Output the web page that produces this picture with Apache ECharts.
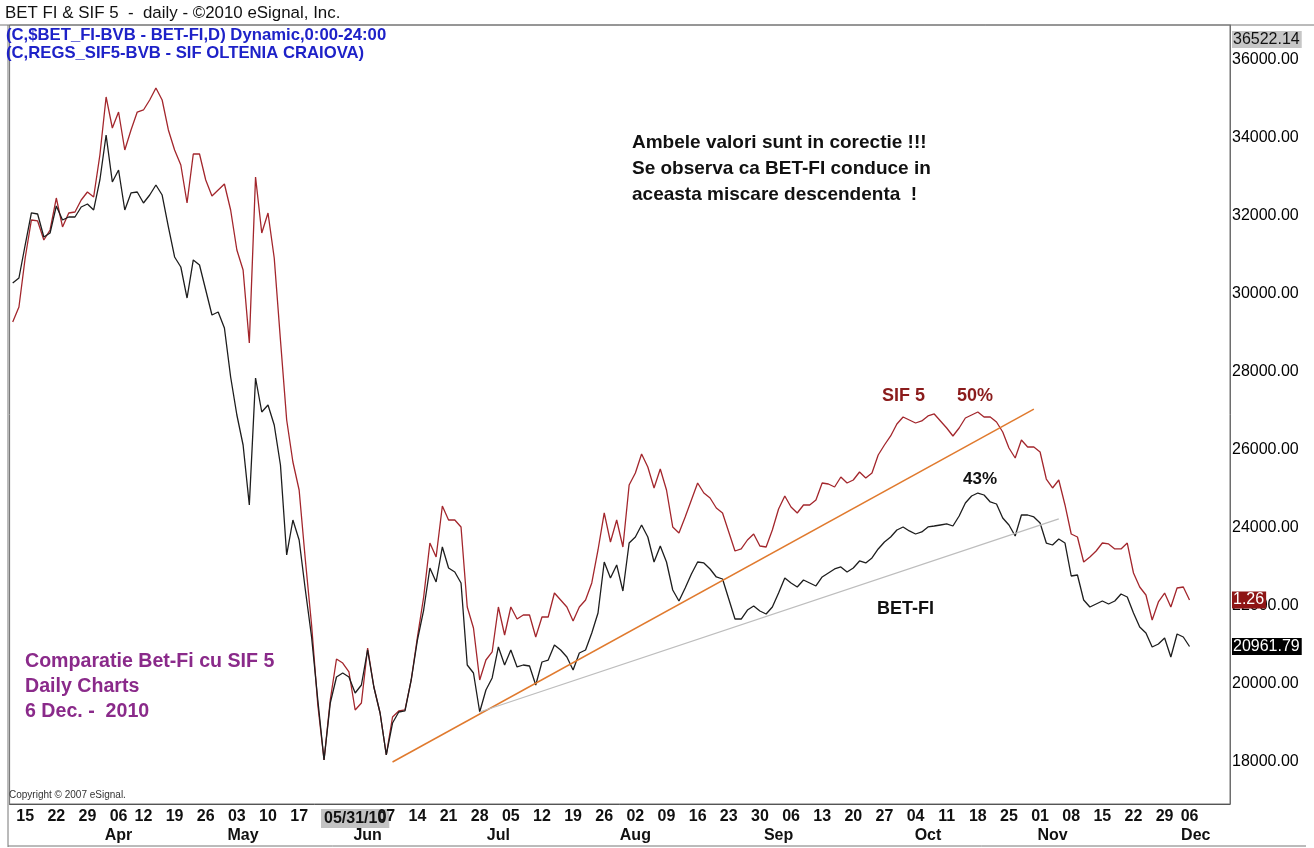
<!DOCTYPE html>
<html><head><meta charset="utf-8">
<script src="https://cdn.jsdelivr.net/npm/echarts@6/dist/echarts.min.js"></script>
<style>html,body{margin:0;padding:0;background:#fff}#c{width:1314px;height:848px}</style>
</head><body><div id="c"></div>
<script>
// ---- trading calendar (Bucharest Stock Exchange sessions) ----
const startDate = '2010-03-11';
const endDate = '2010-12-14';            // axis runs a few empty sessions past the last close
const holidays = ['2010-04-05', '2010-05-24', '2010-12-01'];

// ---- BET-FI daily closes (index points) ----
const betFi = [
30282,30410,31256,32077,32051,31461,31564,32256,31897,31974,
31974,32231,32308,32154,32923,34077,32872,33179,32154,32590,
32615,32333,32538,32795,32538,31718,30949,30692,29897,30872,
30743,30102,29461,29538,29128,27872,26897,26128,24590,27846,
26974,27154,26641,25615,23308,24205,23692,22410,21205,19590,
18052,19513,20179,20282,20179,19769,19974,20872,19923,19256,
18180,18999,19282,19308,20103,21128,21897,22974,22615,23513,
22974,22872,22590,20487,20282,19282,19846,20154,20949,20487,
20872,20436,20487,20461,19974,20564,20615,21000,20872,20692,
20359,20795,20872,21308,21821,23128,22718,23052,22385,23615,
23769,24077,23769,23128,23538,23128,22410,22128,22462,22821,
23128,23103,22949,22744,22692,22179,21666,21666,21897,21999,
21871,21795,21974,22333,22718,22590,22487,22667,22590,22513,
22744,22846,22949,23000,22872,22974,23154,23103,23231,23462,
23641,23769,23949,24026,23924,23846,23898,24026,24051,24077,
24103,24051,24308,24641,24820,24897,24846,24667,24615,24256,
24077,23795,24333,24333,24282,24128,23615,23564,23718,23615,
22769,22795,22154,21974,22051,22128,22051,22128,22308,22231,
21821,21462,21308,20949,21026,21180,20692,21282,21205,20961.79
];

// ---- SIF 5 overlay, rescaled onto the BET-FI axis as in the chart ----
const sif5 = [
29282,29667,30923,31897,31872,31384,31641,32461,31718,32077,
32102,32410,32615,32487,33564,35051,34256,34666,33692,34205,
34666,34718,34974,35282,34974,34205,33692,33307,32333,33589,
33589,32923,32513,32667,32820,32154,31128,30615,28743,33000,
31564,32077,30923,28820,26769,25692,24974,23180,21513,19461,
18052,19590,20641,20538,20308,19333,19513,20923,19923,19256,
18180,19154,19308,19334,20103,21205,22231,23615,23256,24564,
24205,24205,24026,21974,21436,20103,20615,20821,21974,21256,
21974,21666,21769,21769,21205,21718,21718,22333,22154,21974,
21615,21974,22154,22590,23436,24385,23641,24205,23513,25103,
25410,25897,25564,25026,25513,24974,24026,23872,24282,24718,
25154,24897,24769,24513,24385,23898,23410,23462,23692,23846,
23538,23513,23949,24487,24820,24538,24385,24589,24589,24718,
25154,25128,25051,25308,25154,25231,25436,25282,25410,25872,
26128,26359,26667,26846,26769,26692,26744,26872,26923,26744,
26564,26359,26564,26820,26897,26974,26846,26846,26718,26461,
26051,25795,26256,26077,26077,25949,25256,25026,25231,24590,
23846,23769,23128,23256,23410,23615,23590,23462,23462,23615,
22846,22487,22282,21641,22103,22333,21974,22461,22487,22154
];
const sif5LastPrice = '1.26';
const betFiLastText = '20961.79';
const cursorValue = 36522.14;

// ---- axis ticks / labels ----
const yTicks = [18000, 20000, 22000, 24000, 26000, 28000, 30000, 32000, 34000, 36000];
const weekTickDates = [
'2010-03-15','2010-03-22','2010-03-29','2010-04-06','2010-04-12','2010-04-19','2010-04-26',
'2010-05-03','2010-05-10','2010-05-17','2010-05-31','2010-06-07','2010-06-14','2010-06-21',
'2010-06-28','2010-07-05','2010-07-12','2010-07-19','2010-07-26','2010-08-02','2010-08-09',
'2010-08-16','2010-08-23','2010-08-30','2010-09-06','2010-09-13','2010-09-20','2010-09-27',
'2010-10-04','2010-10-11','2010-10-18','2010-10-25','2010-11-01','2010-11-08','2010-11-15',
'2010-11-22','2010-11-29','2010-12-06'
];
const cursorDate = '2010-05-31';
const cursorDateText = '05/31/10';
const monthLabelDates = ['2010-04-06','2010-05-04','2010-06-02','2010-07-01','2010-08-02','2010-09-02','2010-10-06','2010-11-03','2010-12-07'];
const monthLabelTexts = ['Apr','May','Jun','Jul','Aug','Sep','Oct','Nov','Dec'];

// ---- drawn trend lines ----
const orangeTrend = [['2010-06-08', 18000], ['2010-10-29', 27050]];
const grayTrend = [['2010-06-28', 19282], ['2010-11-04', 24231]];

function buildSessions(start, end, closed) {
  const out = [];
  const d = new Date(start + 'T00:00:00Z');
  const stop = new Date(end + 'T00:00:00Z');
  while (d <= stop) {
    const wd = d.getUTCDay();
    const s = d.toISOString().slice(0, 10);
    if (wd !== 0 && wd !== 6 && closed.indexOf(s) < 0) out.push(s);
    d.setUTCDate(d.getUTCDate() + 1);
  }
  return out;
}
const sessions = buildSessions(startDate, endDate, holidays);
const weekSet = new Set(weekTickDates);
const monthMap = new Map(monthLabelDates.map((d, i) => [d, monthLabelTexts[i]]));

const FONT = '"Liberation Sans", Arial, sans-serif';
const chart = echarts.init(document.getElementById('c'));

function txt(text, x, y, size, weight, color) {
  return { type: 'text', x: x, y: y, silent: true, z: 100,
    style: { text: text, fill: color, font: weight + ' ' + size + 'px ' + FONT,
             textVerticalAlign: 'middle', verticalAlign: 'middle', textAlign: 'left', align: 'left' } };
}
function ln(x1, y1, x2, y2, color) {
  return { type: 'line', silent: true, z: 90, shape: { x1: x1, y1: y1, x2: x2, y2: y2 },
           style: { stroke: color, lineWidth: 1 } };
}
function sideTag(value, text, bg, fg) {
  return { yAxis: value,
    label: { show: true, position: 'end', distance: 2, formatter: text, color: fg, opacity: 1,
             backgroundColor: bg, padding: [1, 2, 0, 1], fontSize: 16, fontFamily: FONT } };
}
const hiddenLine = { color: 'rgba(0,0,0,0)', width: 1, opacity: 1 };

const option = {
  animation: false,
  backgroundColor: '#ffffff',
  textStyle: { fontFamily: FONT },
  grid: { left: 9.6, right: 84, top: 25, bottom: 44, show: true, borderColor: '#6e6e6e', borderWidth: 1, backgroundColor: 'transparent' },
  xAxis: [
    { type: 'category', data: sessions, boundaryGap: true, position: 'bottom',
      axisLine: { show: true, lineStyle: { color: '#555', width: 1 } },
      axisTick: { show: false }, splitLine: { show: false },
      axisLabel: {
        interval: function (i, v) { return weekSet.has(v); },
        formatter: function (v) { return v === cursorDate ? '{hl|' + cursorDateText + '}' : v.slice(8, 10); },
        margin: 5, color: '#111', fontSize: 16, fontWeight: 'bold', fontFamily: FONT,
        rich: { hl: { backgroundColor: '#c2c2c2', color: '#111', fontSize: 16, fontWeight: 'bold', fontFamily: FONT, padding: [2, 3, 1, 3] } }
      } },
    { type: 'category', data: sessions, boundaryGap: true, position: 'bottom', offset: 18,
      axisLine: { show: false }, axisTick: { show: false }, splitLine: { show: false },
      axisLabel: {
        interval: function (i, v) { return monthMap.has(v); },
        formatter: function (v) { return monthMap.get(v) || ''; },
        margin: 6, color: '#111', fontSize: 16, fontWeight: 'bold', fontFamily: FONT
      } }
  ],
  yAxis: { type: 'value', position: 'right', min: 16923, max: 36897, scale: true,
    axisLine: { show: true, lineStyle: { color: '#6e6e6e' } },
    axisTick: { show: false }, splitLine: { show: false },
    axisLabel: { customValues: yTicks, formatter: function (v) { return v.toFixed(2); },
                 margin: 2, color: '#000', fontSize: 16, fontFamily: FONT } },
  series: [
    { name: 'SIF 5', type: 'line', data: sif5, symbol: 'none', z: 2,
      lineStyle: { color: '#a3262c', width: 1.3 },
      markLine: { silent: true, symbol: ['none', 'none'], lineStyle: hiddenLine, z: 10,
        data: [sideTag(sif5[sif5.length - 1], sif5LastPrice, '#8e1515', '#fff')] } },
    { name: 'BET-FI', type: 'line', data: betFi, symbol: 'none', z: 3,
      lineStyle: { color: '#1d1d1d', width: 1.3 },
      markLine: { silent: true, symbol: ['none', 'none'], lineStyle: hiddenLine, z: 10,
        data: [
          sideTag(betFi[betFi.length - 1], betFiLastText, '#000', '#fff'),
          sideTag(cursorValue, cursorValue.toFixed(2), '#c6c6c6', '#111')
        ] } },
    { name: 'trend SIF', type: 'line', data: orangeTrend, symbol: 'none', z: 4,
      lineStyle: { color: '#e07a2e', width: 1.5 } },
    { name: 'trend BET', type: 'line', data: grayTrend, symbol: 'none', z: 4,
      lineStyle: { color: '#bdbdbd', width: 1.3 } }
  ],
  graphic: [
    ln(0, 25, 1314, 25, '#777'),
    ln(8, 25, 8, 847, '#777'),
    ln(8, 846, 1306, 846, '#777'),
    txt('BET FI & SIF 5  -  daily - \u00A92010 eSignal, Inc.', 5, 13, 16.9, 'normal', '#111'),
    txt('(C,$BET_FI-BVB - BET-FI,D) Dynamic,0:00-24:00', 6, 35, 16.7, 'bold', '#1e22c8'),
    txt('(C,REGS_SIF5-BVB - SIF OLTENIA CRAIOVA)', 6, 53, 16.7, 'bold', '#1e22c8'),
    txt('Ambele valori sunt in corectie !!!', 632, 143, 19, 'bold', '#111'),
    txt('Se observa ca BET-FI conduce in', 632, 169, 19, 'bold', '#111'),
    txt('aceasta miscare descendenta  !', 632, 195, 19, 'bold', '#111'),
    txt('SIF 5', 882, 396, 18, 'bold', '#8b1c1c'),
    txt('50%', 957, 396, 18, 'bold', '#8b1c1c'),
    txt('43%', 963, 479, 17, 'bold', '#111'),
    txt('BET-FI', 877, 609, 18, 'bold', '#111'),
    txt('Comparatie Bet-Fi cu SIF 5', 25, 662, 19.6, 'bold', '#8a2a8a'),
    txt('Daily Charts', 25, 687, 19.6, 'bold', '#8a2a8a'),
    txt('6 Dec. -  2010', 25, 712, 19.6, 'bold', '#8a2a8a'),
    txt('Copyright \u00A9 2007 eSignal.', 9, 795, 10, 'normal', '#333')
  ]
};
chart.setOption(option);
</script>
</body></html>
